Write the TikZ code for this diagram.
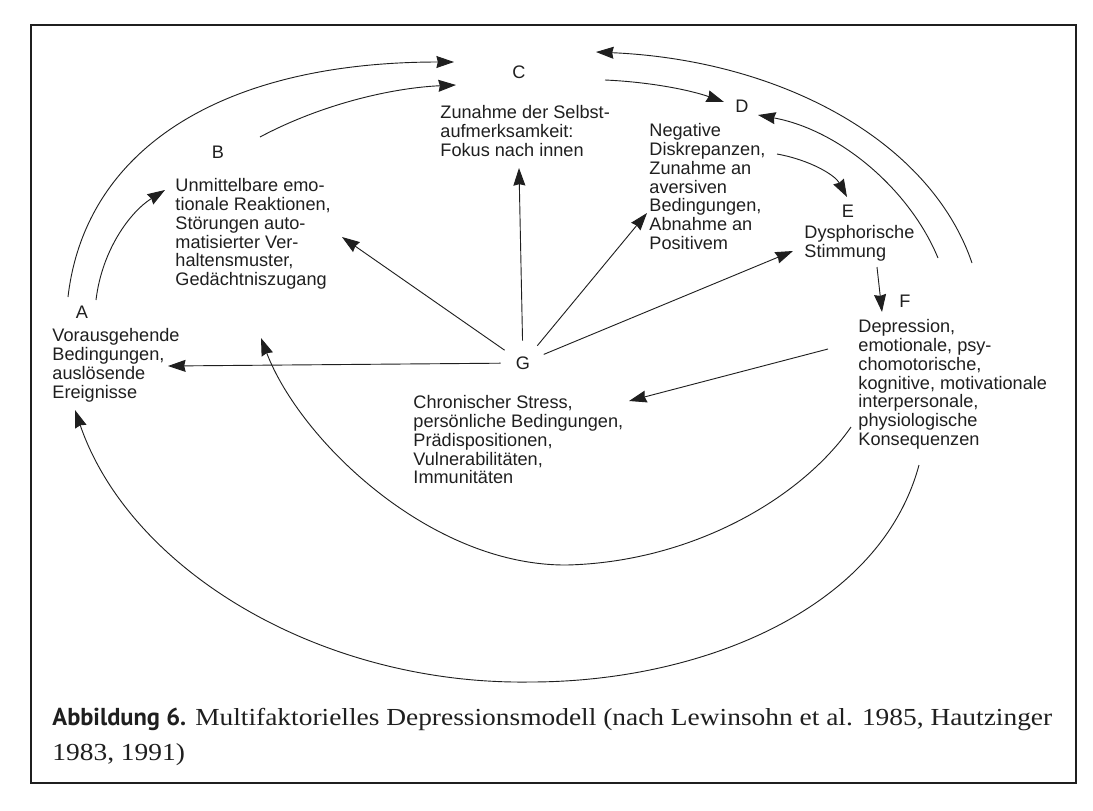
\documentclass[tikz,border=0pt]{standalone}
\usepackage{fontspec}
\setmainfont{Liberation Sans}
\newfontfamily\capserif[FakeStretch=1.12]{Liberation Serif}
\newfontfamily\capsans{PT Sans}
\usetikzlibrary{arrows.meta}
\definecolor{ink}{gray}{0.12}

\begin{document}
\begin{tikzpicture}[x=0.025cm,y=-0.025cm,ink,line width=0.65pt,
    arr/.style={-{Stealth[length=12.5pt,width=8.5pt,inset=1pt]}},
    lett/.style={inner sep=0pt,font=\fontsize{12.9}{13.4}\selectfont},
    txt/.style={anchor=north west,align=left,inner sep=0pt,font=\fontsize{12.9}{13.4}\selectfont}]
\useasboundingbox (0,0) rectangle (1093,810);
\fill[white] (0,0) rectangle (1093,810);
\draw[line width=1.1pt] (31,25) rectangle (1076,783);

\node[lett] (A) at (82,312) {A};
\node[txt] (textA) at (52,328) {Vorausgehende\\Bedingungen,\\auslösende\\Ereignisse};
\node[lett] (B) at (218,152) {B};
\node[txt] (textB) at (175,178) {Unmittelbare emo-\\tionale Reaktionen,\\Störungen auto-\\matisierter Ver-\\haltensmuster,\\Gedächtniszugang};
\node[lett] (C) at (519,72) {C};
\node[txt] (textC) at (440,105) {Zunahme der Selbst-\\aufmerksamkeit:\\Fokus nach innen};
\node[lett] (D) at (742,106) {D};
\node[txt] (textD) at (649,123) {Negative\\Diskrepanzen,\\Zunahme an\\aversiven\\Bedingungen,\\Abnahme an\\Positivem};
\node[lett] (E) at (848,211) {E};
\node[txt] (textE) at (804,225) {Dysphorische\\Stimmung};
\node[lett] (F) at (905,301) {F};
\node[txt] (textF) at (858,319) {Depression,\\emotionale, psy-\\chomotorische,\\kognitive, motivationale\\interpersonale,\\physiologische\\Konsequenzen};
\node[lett,circle,minimum size=1.1cm] (G) at (523,363) {G};
\node[txt] (textG) at (413,395) {Chronischer Stress,\\persönliche Bedingungen,\\Prädispositionen,\\Vulnerabilitäten,\\Immunitäten};

\coordinate (A-out1) at (68,297);
\coordinate (A-out2) at (96,300);
\coordinate (A-in1) at (168,366);
\coordinate (A-in2) at (75,410);
\coordinate (B-in1) at (165,190);
\coordinate (B-in2) at (342,237);
\coordinate (B-in3) at (261,338);
\coordinate (B-out) at (260,137);
\coordinate (C-in1) at (454,62);
\coordinate (C-in2) at (456,85);
\coordinate (C-in3) at (519,168);
\coordinate (C-in4) at (596,52);
\coordinate (C-out) at (605,80);
\coordinate (D-in1) at (724,102);
\coordinate (D-in2) at (647,213);
\coordinate (D-in3) at (758,115);
\coordinate (D-out) at (777,154);
\coordinate (E-in1) at (847,197);
\coordinate (E-in2) at (793,251);
\coordinate (E-out) at (877,267);
\coordinate (F-in) at (882,312);
\coordinate (F-out1) at (972,263);
\coordinate (F-out2) at (938,258);
\coordinate (F-out3) at (828,349);
\coordinate (F-out4) at (851,427);
\coordinate (F-out5) at (919,465);
\coordinate (G-in) at (629,401);

\draw[arr] (A-out1) .. controls (85,150) and (220,62) .. (C-in1);
\draw[arr] (A-out2) .. controls (102,250) and (130,212) .. (B-in1);
\draw[arr] (B-out) .. controls (320,105) and (390,88) .. (C-in2);
\draw[arr] (C-out) .. controls (650,82) and (690,90) .. (D-in1);
\draw[arr] (D-out) .. controls (810,160) and (835,175) .. (E-in1);
\draw[arr] (E-out) -- (F-in);
\draw[arr] (F-out1) .. controls (930,140) and (780,60) .. (C-in4);
\draw[arr] (F-out2) .. controls (910,190) and (840,130) .. (D-in3);
\draw[arr] (F-out3) -- (G-in);
\draw[arr] (F-out4) .. controls (800,500) and (690,562) .. (567,565) .. controls (430,566) and (300,440) .. (B-in3);
\draw[arr] (F-out5) .. controls (880,610) and (700,682) .. (530,682) .. controls (320,685) and (130,570) .. (A-in2);
\draw[arr] (G) -- (A-in1);
\draw[arr] (G) -- (B-in2);
\draw[arr] (G) -- (C-in3);
\draw[arr] (G) -- (D-in2);
\draw[arr] (G) -- (E-in2);

\node[anchor=north west,align=left,inner sep=0pt,font=\capserif\fontsize{17.4}{24.9}\selectfont] (caption) at (52,708) {{\capsans\bfseries Abbildung 6.} Multifaktorielles Depressionsmodell (nach Lewinsohn et al. 1985, Hautzinger\\1983, 1991)};
\end{tikzpicture}
\end{document}
